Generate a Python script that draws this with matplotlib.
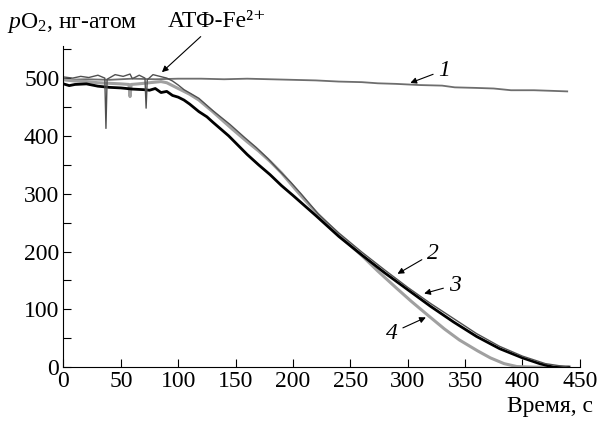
import matplotlib
matplotlib.use("Agg")
import matplotlib.pyplot as plt

plt.rcParams['font.family'] = ['Liberation Serif', 'DejaVu Serif']
plt.rcParams['mathtext.fontset'] = 'custom'
plt.rcParams['mathtext.rm'] = 'Liberation Serif'
plt.rcParams['mathtext.it'] = 'Liberation Serif:italic'

# curve 1 (control)
t1 = [0, 20, 40, 60, 80, 100, 120, 140, 160, 180, 200, 220, 240, 260, 274,
      290, 310, 330, 341, 360, 375, 390, 410, 425, 439]
p1 = [497, 498, 497, 499, 498, 499, 499, 498, 499, 498, 497, 496, 494, 493, 491,
      490, 488, 487, 484, 483, 482, 479, 479, 478, 477]

# curve 2 (black)
t2 = [0, 5, 10, 20, 30, 40, 50, 60, 70, 75, 80, 85, 90, 95, 100, 105, 110, 118,
      125, 130, 137, 144, 150, 160, 170, 180, 190, 200, 220, 240, 260, 280, 300,
      320, 340, 360, 380, 400, 415, 427, 440]
p2 = [490, 487, 489, 490, 486, 484, 483, 481, 480, 479, 482, 475, 477, 470, 467,
      462, 455, 442, 433, 424, 412, 400, 388, 368, 350, 333, 314, 297, 262, 226,
      194, 163, 134, 105, 78, 53, 32, 16, 6, 0, 0]

# curve 3 (thin dark grey, with spikes)
t3 = [0, 8, 15, 22, 30, 36, 37, 38, 45, 52, 58, 60, 66, 71, 72, 73, 78, 84, 90,
      95, 100, 105, 112, 118, 130, 145, 158, 168, 178, 188, 198, 207, 222, 240,
      260, 280, 300, 320, 340, 360, 380, 400, 420, 440]
p3 = [502, 500, 503, 501, 505, 500, 413, 498, 506, 503, 507, 499, 505, 500, 448,
      497, 506, 503, 500, 495, 488, 480, 472, 465, 444, 420, 397, 380, 361, 340,
      320, 300, 265, 232, 199, 168, 138, 110, 84, 58, 36, 19, 6, 0]

# curve 4 (light grey)
t4 = [0, 10, 20, 30, 40, 50, 57, 58, 59, 65, 75, 85, 90, 100, 110, 118, 130,
      147, 160, 170, 180, 190, 205, 220, 240, 260, 274, 290, 303, 318, 332, 345,
      361, 372, 384, 395, 410, 425, 441]
p4 = [497, 495, 494, 492, 491, 490, 489, 468, 489, 490, 492, 494, 492, 482, 472,
      462, 442, 412, 390, 374, 356, 336, 301, 268, 228, 193, 166, 137, 114, 89,
      66, 47, 28, 16, 6, 1, 0, 0, 0]

xticks = [0, 50, 100, 150, 200, 250, 300, 350, 400, 450]
yticks = [0, 100, 200, 300, 400, 500]

fig = plt.figure(figsize=(5.99, 4.21), dpi=100)
ax = fig.add_axes([0.106, 0.128, 0.862, 0.762])

ax.plot(t1, p1, color='#6e6e6e', lw=1.3)
ax.plot(t4, p4, color='#a0a0a0', lw=2.2)
ax.plot(t2, p2, color='#000000', lw=2.0)
ax.plot(t3, p3, color='#505050', lw=1.0)

ax.set_xlim(0, 450)
ax.set_ylim(0, 555)
ax.set_xticks(xticks)
ax.set_yticks(yticks)
ax.set_yticks([50, 150, 250, 350, 450, 550], minor=True)
ax.tick_params(direction='in', labelsize=17, length=6, width=0.8, pad=3)
ax.tick_params(which='minor', direction='in', length=6, width=0.8)
for s in ['top', 'right']:
    ax.spines[s].set_visible(False)

fig.text(0.012, 0.945, '$p$O$_2$, нг-атом', fontsize=17, ha='left', va='center')
fig.text(0.99, 0.035, 'Время, с', fontsize=17, ha='right', va='center')

arr = dict(arrowstyle='-|>', color='black', lw=0.8, mutation_scale=9)
ax.annotate('АТФ-Fe²⁺', xy=(84, 507), xytext=(134, 598), fontsize=17,
            ha='center', va='center', arrowprops=arr, annotation_clip=False)
ax.annotate('1', xy=(300, 490), xytext=(332, 514), fontsize=17, style='italic',
            ha='center', va='center', arrowprops=arr)
ax.annotate('2', xy=(289, 159), xytext=(322, 197), fontsize=17, style='italic',
            ha='center', va='center', arrowprops=arr)
ax.annotate('3', xy=(312, 126), xytext=(341, 142), fontsize=17, style='italic',
            ha='center', va='center', arrowprops=arr)
ax.annotate('4', xy=(318, 88), xytext=(286, 59), fontsize=17, style='italic',
            ha='center', va='center', arrowprops=arr)

fig.savefig('out.png', dpi=100)
